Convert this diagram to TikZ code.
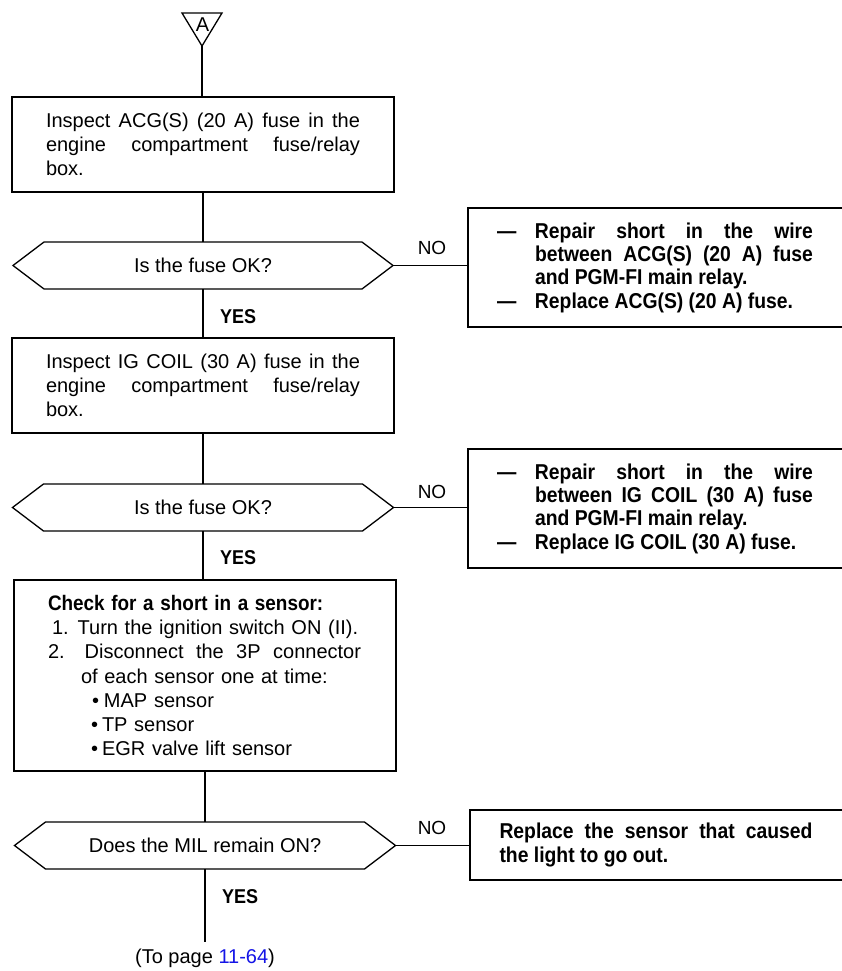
\documentclass[tikz,border=0pt]{standalone}
\usepackage{fontspec}
\setmainfont{Liberation Sans}
\newfontfamily\condfont[FakeStretch=0.9]{Liberation Sans}
\usetikzlibrary{calc}
\definecolor{linkblue}{RGB}{20,20,230}
\begin{document}
\begin{tikzpicture}[x=1pt,y=-1pt, line width=1.3pt,
  every node/.style={inner sep=0pt, outer sep=0pt},
  stepbox/.style={draw, minimum width=382pt, text width=314pt, align=justify,
    font=\fontsize{20}{24}\selectfont},
  decnode/.style={minimum width=380pt, minimum height=47pt,
    font=\fontsize{20}{24}\selectfont},
  actbox/.style={minimum width=374pt, text width=316pt, align=justify,
    font=\condfont\bfseries\fontsize{21.5}{23.3}\selectfont},
  lab/.style={font=\fontsize{19}{22}\selectfont},
  yeslab/.style={font=\condfont\bfseries\fontsize{20}{22}\selectfont, anchor=west},
]
\useasboundingbox (0,0) rectangle (842,971);

% start connector triangle
\coordinate (apex) at (202,46);
\draw (182,13) -- (222,13) -- (apex) -- cycle;
\node[font=\fontsize{20}{22}\selectfont] (triA) at (202.5,24.5) {A};

% main column
\node[stepbox, minimum height=95pt] (b1) at (203,144.5)
  {Inspect ACG(S) (20 A) fuse in the\linebreak engine compartment fuse/relay\linebreak box.};
\node[decnode] (d1) at (203,265.5) {Is the fuse OK?};
\node[stepbox, minimum height=95pt] (b2) at (203,385.5)
  {Inspect IG COIL (30 A) fuse in the\linebreak engine compartment fuse/relay\linebreak box.};
\node[decnode, minimum width=381pt] (d2) at (203,507.5) {Is the fuse OK?};
\node[draw, minimum width=382pt, minimum height=191pt, text width=314pt, align=left,
      font=\fontsize{20}{24.3}\selectfont] (b3) at (205,675.5)
  {{\condfont\bfseries\fontsize{21}{24.3}\selectfont Check for a short in a sensor:}\\
   \hspace*{4pt}1.\hspace*{9pt}Turn the ignition switch ON (II).\\
   \leavevmode\hbox to 313pt{2.\hspace{20pt}Disconnect\hfill the\hfill 3P\hfill connector}\\
   \hspace*{33pt}of each sensor one at time:\\
   \hspace*{44pt}\textbullet\hspace*{5pt}MAP sensor\\
   \hspace*{43pt}\textbullet\hspace*{4pt}TP sensor\\
   \hspace*{43pt}\textbullet\hspace*{4pt}EGR valve lift sensor};
\node[decnode, minimum width=381pt] (d3) at (205,845.5) {Does the MIL remain ON?};
\coordinate (endpt) at (205,942);
\node[font=\fontsize{20}{24}\selectfont] (topage) at (205,958)
  {(To page \textcolor{linkblue}{11-64})};

% decision hexagons
\foreach \d in {d1,d2,d3}
  \draw ($(\d.west)$) -- ($(\d.north west)+(31,0)$) -- ($(\d.north east)+(-31,0)$)
    -- (\d.east) -- ($(\d.south east)+(-31,0)$) -- ($(\d.south west)+(31,0)$) -- cycle;

% action boxes (open to the right edge)
\node[actbox, minimum height=119pt] (r1) at (655,267.5)
  {\leftskip=38pt\relax
   \noindent\llap{\makebox[38pt][l]{\textemdash}}Repair short in the wire\linebreak between ACG(S) (20 A) fuse\linebreak and PGM-FI main relay.\par
   \noindent\llap{\makebox[38pt][l]{\textemdash}}Replace ACG(S) (20 A) fuse.\par};
\node[actbox, minimum height=119pt] (r2) at (655,508.5)
  {\leftskip=38pt\relax
   \noindent\llap{\makebox[38pt][l]{\textemdash}}Repair short in the wire\linebreak between IG COIL (30 A) fuse\linebreak and PGM-FI main relay.\par
   \noindent\llap{\makebox[38pt][l]{\textemdash}}Replace IG COIL (30 A) fuse.\par};
\node[actbox, minimum width=372pt, text width=313pt, minimum height=70pt] (r3) at (656,845)
  {Replace the sensor that caused\linebreak the light to go out.\par};
\foreach \r in {r1,r2,r3}
  \draw (\r.north east) -- (\r.north west) -- (\r.south west) -- (\r.south east);

% connectors
\draw (apex) -- (apex |- b1.north);
\draw (b1.south) -- (d1.north);
\draw (d1.south) -- (b2.north);
\draw (b2.south) -- (d2.north);
\draw (d2.south) -- (d2.south |- b3.north);
\draw (b3.south) -- (d3.north);
\draw (d3.south) -- (endpt);
\draw (d1.east) -- (d1.east -| r1.west);
\draw (d2.east) -- (d2.east -| r2.west);
\draw (d3.east) -- (d3.east -| r3.west);

% labels
\node[lab] (no1) at (432,248) {NO};
\node[lab] (no2) at (432,492) {NO};
\node[lab] (no3) at (432,828) {NO};
\node[yeslab] (yes1) at (220,317) {YES};
\node[yeslab] (yes2) at (220,558) {YES};
\node[yeslab] (yes3) at (222,897) {YES};
\end{tikzpicture}
\end{document}
